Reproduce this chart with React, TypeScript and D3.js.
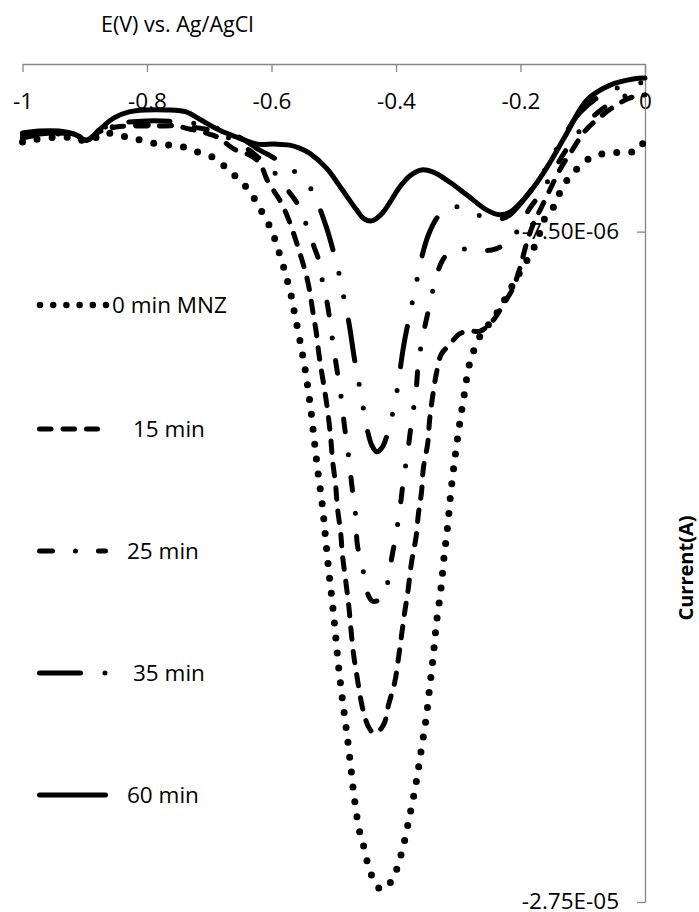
import React, { useEffect, useRef } from "react";
import * as d3 from "d3";

// Each point: [potential E (V vs. Ag/AgCl), current (µA)]
type Pt = [number, number];

const mnz0: Pt[] = [
  [-1.0, -4.83], [-0.99, -4.77], [-0.972, -4.74], [-0.941, -4.68], [-0.917, -4.71], [-0.896, -4.8],
  [-0.877, -4.65], [-0.866, -4.56], [-0.84, -4.65], [-0.817, -4.74], [-0.79, -4.86], [-0.764, -4.92],
  [-0.74, -4.98], [-0.718, -5.13], [-0.692, -5.3], [-0.671, -5.63], [-0.652, -5.96], [-0.634, -6.32],
  [-0.621, -6.74], [-0.608, -7.15], [-0.597, -7.6], [-0.589, -8.05], [-0.581, -8.53], [-0.574, -9.0],
  [-0.568, -9.45], [-0.563, -9.93], [-0.553, -10.88], [-0.544, -11.84], [-0.537, -12.79], [-0.531, -13.78],
  [-0.525, -14.73], [-0.518, -15.72], [-0.513, -16.67], [-0.508, -17.63], [-0.502, -18.61], [-0.497, -19.56],
  [-0.492, -20.52], [-0.486, -21.47], [-0.479, -22.46], [-0.473, -23.41], [-0.467, -24.4], [-0.459, -25.35],
  [-0.452, -25.83], [-0.446, -26.31], [-0.438, -26.75], [-0.423, -27.14], [-0.405, -26.81], [-0.396, -26.34],
  [-0.389, -25.89], [-0.378, -24.93], [-0.368, -23.98], [-0.36, -23.03], [-0.352, -22.07], [-0.346, -21.12],
  [-0.34, -20.13], [-0.335, -19.18], [-0.328, -18.19], [-0.323, -17.24], [-0.317, -16.28], [-0.312, -15.3],
  [-0.306, -14.34], [-0.299, -13.39], [-0.291, -12.43], [-0.282, -11.45], [-0.274, -11.0], [-0.262, -10.52],
  [-0.248, -10.2], [-0.233, -9.78], [-0.217, -9.24], [-0.201, -8.71], [-0.182, -8.11], [-0.171, -7.66],
  [-0.164, -7.21], [-0.148, -6.8], [-0.137, -6.35], [-0.124, -5.93], [-0.106, -5.57], [-0.085, -5.27],
  [-0.061, -5.16], [-0.035, -5.13], [-0.01, -5.07], [0.0, -4.65],
];

const min15: Pt[] = [
  [-1.0, -4.62], [-0.973, -4.56], [-0.941, -4.53], [-0.917, -4.59], [-0.896, -4.74], [-0.877, -4.53],
  [-0.85, -4.38], [-0.812, -4.35], [-0.78, -4.35], [-0.753, -4.35], [-0.732, -4.44], [-0.716, -4.5],
  [-0.7, -4.59], [-0.684, -4.71], [-0.66, -5.04], [-0.636, -5.21], [-0.619, -5.45], [-0.607, -5.96],
  [-0.595, -6.32], [-0.584, -6.65], [-0.571, -7.21], [-0.56, -7.81], [-0.552, -8.29], [-0.545, -8.74],
  [-0.539, -9.24], [-0.534, -9.84], [-0.528, -10.52], [-0.523, -11.27], [-0.516, -12.08], [-0.51, -12.82],
  [-0.505, -13.63], [-0.502, -14.31], [-0.497, -15.06], [-0.494, -15.75], [-0.489, -16.46], [-0.486, -17.15],
  [-0.481, -17.89], [-0.476, -18.64], [-0.473, -19.24], [-0.468, -20.13], [-0.463, -20.73], [-0.457, -21.41],
  [-0.451, -21.92], [-0.444, -22.28], [-0.436, -22.46], [-0.426, -22.37], [-0.418, -22.13], [-0.412, -21.62],
  [-0.402, -20.94], [-0.396, -20.22], [-0.391, -19.53], [-0.386, -18.85], [-0.381, -18.25], [-0.375, -17.36],
  [-0.368, -16.64], [-0.364, -15.92], [-0.359, -15.27], [-0.356, -14.55], [-0.349, -13.81], [-0.346, -13.12],
  [-0.341, -12.4], [-0.335, -11.72], [-0.327, -11.15], [-0.314, -10.88], [-0.298, -10.55], [-0.282, -10.47],
  [-0.265, -10.47], [-0.249, -10.26], [-0.237, -9.96], [-0.225, -9.6], [-0.212, -9.18], [-0.201, -8.59],
  [-0.191, -7.9], [-0.18, -7.3], [-0.167, -6.8], [-0.153, -6.26], [-0.137, -5.66], [-0.117, -5.07],
  [-0.095, -4.47], [-0.072, -4.08], [-0.048, -3.75], [-0.024, -3.51], [0.0, -3.42],
];

const min25: Pt[] = [
  [-1.0, -4.71], [-0.973, -4.62], [-0.941, -4.59], [-0.917, -4.65], [-0.896, -4.77], [-0.877, -4.5],
  [-0.85, -4.35], [-0.801, -4.32], [-0.748, -4.35], [-0.7, -4.47], [-0.668, -4.71], [-0.636, -5.07],
  [-0.611, -5.45], [-0.592, -5.81], [-0.574, -6.26], [-0.555, -6.77], [-0.544, -7.3], [-0.531, -7.99],
  [-0.523, -8.41], [-0.518, -9.0], [-0.51, -9.69], [-0.502, -10.73], [-0.496, -11.48], [-0.488, -12.46],
  [-0.483, -13.27], [-0.476, -14.22], [-0.471, -15.06], [-0.465, -15.95], [-0.462, -16.85], [-0.452, -17.69],
  [-0.446, -18.28], [-0.438, -18.52], [-0.426, -18.49], [-0.418, -18.34], [-0.41, -17.54], [-0.401, -16.64],
  [-0.394, -15.81], [-0.388, -14.91], [-0.381, -14.05], [-0.375, -13.18], [-0.368, -12.29], [-0.364, -11.42],
  [-0.356, -10.55], [-0.346, -9.69], [-0.335, -8.82], [-0.325, -8.35], [-0.312, -8.08], [-0.294, -8.02],
  [-0.269, -8.05], [-0.246, -8.05], [-0.224, -7.87], [-0.209, -7.6], [-0.198, -7.21], [-0.185, -6.8],
  [-0.172, -6.47], [-0.153, -5.9], [-0.129, -5.13], [-0.097, -4.32], [-0.064, -3.78], [-0.032, -3.45],
  [0.0, -3.22],
];

const min35: Pt[] = [
  [-1.0, -4.68], [-0.973, -4.59], [-0.941, -4.56], [-0.917, -4.62], [-0.896, -4.77], [-0.877, -4.47],
  [-0.85, -4.29], [-0.801, -4.2], [-0.748, -4.23], [-0.7, -4.35], [-0.652, -4.68], [-0.619, -5.07],
  [-0.599, -5.27], [-0.571, -5.6], [-0.544, -6.02], [-0.526, -6.65], [-0.512, -7.36], [-0.502, -7.99],
  [-0.491, -8.79], [-0.483, -9.54], [-0.475, -10.29], [-0.467, -11.27], [-0.459, -12.08], [-0.452, -12.82],
  [-0.446, -13.42], [-0.439, -13.87], [-0.431, -14.07], [-0.422, -13.93], [-0.41, -13.27], [-0.399, -12.32],
  [-0.388, -10.94], [-0.378, -9.99], [-0.368, -9.09], [-0.359, -8.29], [-0.348, -7.6], [-0.333, -7.06],
  [-0.317, -6.8], [-0.298, -6.77], [-0.278, -6.92], [-0.257, -7.09], [-0.237, -7.15], [-0.217, -7.0],
  [-0.198, -6.62], [-0.177, -6.11], [-0.156, -5.51], [-0.134, -4.77], [-0.105, -3.96], [-0.072, -3.45],
  [-0.04, -3.19], [0.0, -3.04],
];

const min60: Pt[] = [
  [-1.0, -4.56], [-0.973, -4.5], [-0.941, -4.5], [-0.917, -4.59], [-0.896, -4.77], [-0.877, -4.47],
  [-0.853, -4.11], [-0.829, -3.93], [-0.801, -3.87], [-0.769, -3.87], [-0.737, -3.93], [-0.716, -4.14],
  [-0.684, -4.47], [-0.652, -4.71], [-0.623, -4.89], [-0.595, -4.89], [-0.571, -4.92], [-0.555, -5.01],
  [-0.539, -5.16], [-0.512, -5.6], [-0.486, -6.26], [-0.463, -6.86], [-0.451, -7.12], [-0.439, -7.18],
  [-0.422, -6.95], [-0.394, -6.17], [-0.378, -5.84], [-0.359, -5.66], [-0.341, -5.72], [-0.314, -6.02],
  [-0.286, -6.41], [-0.254, -6.86], [-0.233, -7.0], [-0.217, -6.92], [-0.196, -6.56], [-0.174, -6.05],
  [-0.153, -5.45], [-0.129, -4.68], [-0.093, -3.57], [-0.056, -3.13], [-0.019, -2.95], [0.0, -2.92],
];

const seriesData: Pt[][] = [mnz0, min15, min25, min35, min60];
const seriesNames = ["0 min MNZ", "15 min", "25 min", "35 min", "60 min"];

const xTickValues = [-1, -0.8, -0.6, -0.4, -0.2, 0];
const yTickValues = [-27.5, -7.5]; // µA
const xAxisTitle = "E(V) vs. Ag/AgCl";
const yAxisTitle = "Current(A)";

// ---- layout & styling ----
const W = 699;
const H = 912;
const plot = { left: 22.5, right: 645, top: 64, bottom: 902 };
const FONT = "'Open Sans', 'Noto Sans', sans-serif";
const AXIS_COLOR = "#868686";
const INK = "#000";

const lineStyles = [
  { width: 7, dash: "0 15", legendDash: "0 13.2" },
  { width: 5, dash: "11.5 12", legendDash: "11.5 12" },
  { width: 5, dash: "13 23 0 23", legendDash: "13 23 0 23" },
  { width: 5, dash: "41 24 0 24 0 24", legendDash: "41 24.5 0 24 0 24" },
  { width: 5, dash: "none", legendDash: "none" },
];

const legendRows = [
  { y: 305, x1: 40, x2: 106, textX: 112 },
  { y: 429, x1: 39.5, x2: 97.5, textX: 133 },
  { y: 551, x1: 39.5, x2: 105.5, textX: 127 },
  { y: 673, x1: 39.5, x2: 105.5, textX: 133 },
  { y: 795, x1: 39.5, x2: 105.5, textX: 127 },
];

const x = d3.scaleLinear().domain([-1, 0]).range([plot.left, plot.right]);
const y = d3.scaleLinear().domain([-27.5, -2.5]).range([plot.bottom, plot.top]);

const line = d3
  .line<Pt>()
  .x((d) => x(d[0]))
  .y((d) => y(d[1]))
  .curve(d3.curveCatmullRom.alpha(0.5));

// Excel-style scientific label, e.g. -7.50E-06 (values are held in µA)
const sciLabel = (v: number) => {
  const [m, e] = (v * 1e-6).toExponential(2).split("e");
  const n = +e;
  return `${m}E${n < 0 ? "-" : "+"}${String(Math.abs(n)).padStart(2, "0")}`;
};

export default function App() {
  const xAxisRef = useRef<SVGGElement>(null);
  const yAxisRef = useRef<SVGGElement>(null);

  useEffect(() => {
    const styleAxis = (g: d3.Selection<SVGGElement, unknown, null, undefined>) => {
      g.attr("font-size", null).attr("font-family", null);
      g.select(".domain").attr("stroke", AXIS_COLOR).attr("stroke-width", 1.3);
      g.selectAll(".tick line").attr("stroke", AXIS_COLOR).attr("stroke-width", 1.3);
      g.selectAll(".tick text")
        .attr("fill", INK)
        .style("font-family", FONT)
        .style("font-size", "22.5px");
    };

    const gx = d3.select(xAxisRef.current as SVGGElement);
    gx.call(
      d3
        .axisBottom(x)
        .tickValues(xTickValues)
        .tickSize(8)
        .tickSizeOuter(0)
        .tickPadding(21)
        .tickFormat((d) => String(d))
    );
    styleAxis(gx);

    const gy = d3.select(yAxisRef.current as SVGGElement);
    gy.call(
      d3
        .axisLeft(y)
        .tickValues(yTickValues)
        .tickSize(8)
        .tickSizeOuter(0)
        .tickPadding(18)
        .tickFormat((d) => sciLabel(d as number))
    );
    styleAxis(gy);
    gy.selectAll(".tick text").attr("dy", "0.3em");
  }, []);

  return (
    <svg
      width={W}
      height={H}
      viewBox={`0 0 ${W} ${H}`}
      style={{ position: "absolute", left: 0, top: 0, background: "#fff" }}
    >
      <rect x={0} y={0} width={W} height={H} fill="#fff" />

      <g ref={xAxisRef} transform={`translate(0,${plot.top})`} />
      <g ref={yAxisRef} transform={`translate(${plot.right},0)`} />

      <text x={101} y={32} fontFamily={FONT} fontSize={21.5} fill={INK}>
        {xAxisTitle}
      </text>
      <text
        transform={`translate(685,568) rotate(-90)`}
        textAnchor="middle"
        dominantBaseline="central"
        fontFamily={FONT}
        fontSize={20}
        fontWeight="bold"
        fill={INK}
      >
        {yAxisTitle}
      </text>

      <g fill="none" stroke={INK} strokeLinecap="round" strokeLinejoin="round">
        {seriesData.map((data, i) => (
          <path
            key={seriesNames[i]}
            d={line(data) ?? ""}
            strokeWidth={lineStyles[i].width}
            strokeDasharray={lineStyles[i].dash}
          />
        ))}
      </g>

      <g>
        {seriesNames.map((name, i) => {
          const row = legendRows[i];
          return (
            <g key={name}>
              <line
                x1={row.x1}
                x2={row.x2}
                y1={row.y}
                y2={row.y}
                stroke={INK}
                strokeWidth={lineStyles[i].width === 7 ? 6.5 : 5}
                strokeLinecap="round"
                strokeDasharray={lineStyles[i].legendDash}
              />
              <text
                x={row.textX}
                y={row.y + 8}
                fontFamily={FONT}
                fontSize={22.5}
                fill={INK}
              >
                {name}
              </text>
            </g>
          );
        })}
      </g>
    </svg>
  );
}
